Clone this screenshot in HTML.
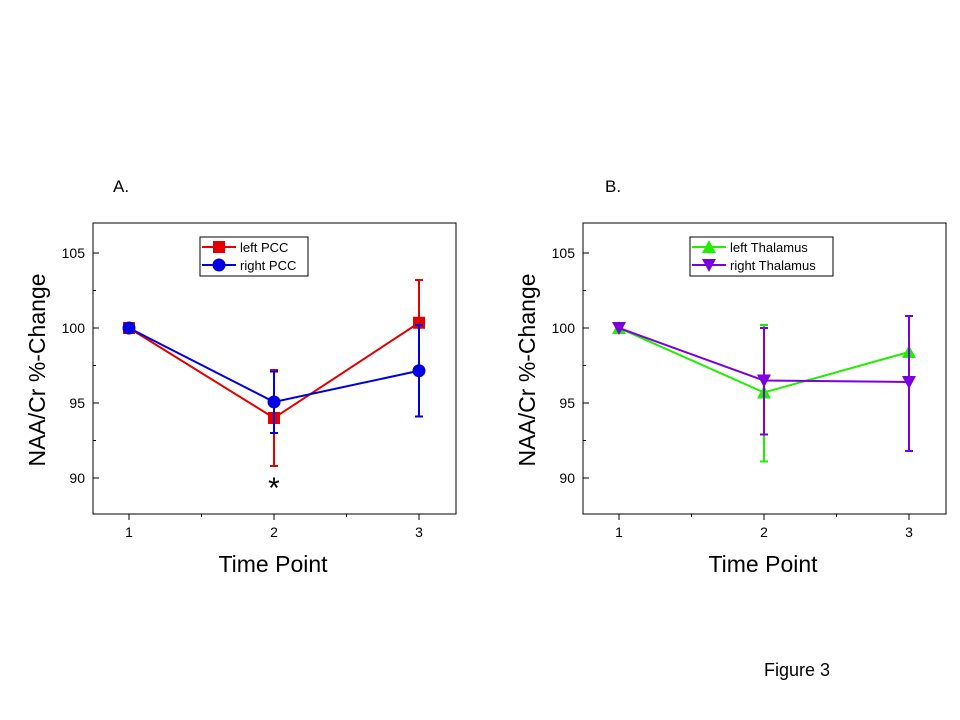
<!DOCTYPE html>
<html><head><meta charset="utf-8"><style>
body{margin:0;background:#fff;width:960px;height:720px;overflow:hidden}
svg{display:block;font-family:"Liberation Sans",Arial,sans-serif}
</style></head><body>
<svg id="fig" width="960" height="720">
<text x="113" y="192" font-size="17">A.</text>
<text x="605" y="192" font-size="17">B.</text>
<text x="797" y="676" font-size="18" text-anchor="middle">Figure 3</text>
</svg>
<script>
const xCats=[1,2,3];
const yTicks=[90,95,100,105];
const aLeft=[100,94.0,100.35];
const aLeftHi=[100,97.2,103.2];
const aLeftLo=[100,90.8,97.4];
const aRight=[100,95.07,97.15];
const aRightHi=[100,97.1,100.2];
const aRightLo=[100,93.0,94.1];
const bLeft=[100,95.7,98.4];
const bLeftHi=[100,100.2,98.4];
const bLeftLo=[100,91.1,98.4];
const bRight=[100,96.5,96.4];
const bRightHi=[100,100.0,100.8];
const bRightLo=[100,92.9,91.8];
const NS="http://www.w3.org/2000/svg";
const svg=document.getElementById('fig');
function mk(t,a,p){const e=document.createElementNS(NS,t);for(const k in a)e.setAttribute(k,a[k]);(p||svg).appendChild(e);return e;}
function panel(px,id,series,lx,lw){
  const L=px,R=px+363,T=223,B=514;
  const X=v=>L+36+(v-1)*145, Y=v=>328-(v-100)*15;
  const g=mk('g',{});
  
  
  const fr=mk('rect',{x:L,y:T,width:R-L,height:B-T,fill:'none',stroke:'#000','stroke-width':1},g);
  
  yTicks.forEach(v=>{
    mk('line',{x1:L,x2:L+6,y1:Y(v),y2:Y(v),stroke:'#000'},g);
    if(Y(v+2.5)>T)mk('line',{x1:L,x2:L+3,y1:Y(v+2.5),y2:Y(v+2.5),stroke:'#000'},g);
    const t=mk('text',{x:L-8,y:Y(v)+5,'font-size':14,'text-anchor':'end'},g);t.textContent=v;
    
  });
  xCats.forEach(v=>{
    mk('line',{x1:X(v),x2:X(v),y1:B,y2:B+6,stroke:'#000'},g);
    if(v<3)mk('line',{x1:X(v+0.5),x2:X(v+0.5),y1:B,y2:B+3,stroke:'#000'},g);
    const t=mk('text',{x:X(v),y:B+23,'font-size':14,'text-anchor':'middle'},g);t.textContent=v;
    
  });
  const xt=mk('text',{x:L+180,y:572,'font-size':23,'text-anchor':'middle'},g);xt.textContent='Time Point';
  
  const yt=mk('text',{x:0,y:0,'font-size':23,'text-anchor':'middle',transform:`translate(${L-48},370) rotate(-90)`},g);yt.textContent='NAA/Cr %-Change';
  
  function marker(shape,x,y,c,parent){
    if(shape==='sq')return mk('rect',{x:x-6,y:y-6,width:12,height:12,fill:c},parent);
    if(shape==='ci')return mk('circle',{cx:x,cy:y,r:6.5,fill:c},parent);
    if(shape==='up')return mk('polygon',{points:`${x},${y-7} ${x-7},${y+6} ${x+7},${y+6}`,fill:c},parent);
    return mk('polygon',{points:`${x},${y+7} ${x-7},${y-6} ${x+7},${y-6}`,fill:c},parent);
  }
  series.forEach(s=>{
    const sg=mk('g',{},g);
    
    const pl=mk('polyline',{points:s.v.map((v,i)=>X(xCats[i])+','+Y(v)).join(' '),fill:'none',stroke:s.c,'stroke-width':2},sg);
    
    s.v.forEach((v,i)=>{
      const x=X(xCats[i]);
      if(s.hi[i]!==s.lo[i]){
        const e=mk('path',{d:`M${x},${Y(s.hi[i])}V${Y(s.lo[i])}M${x-4},${Y(s.hi[i])}H${x+4}M${x-4},${Y(s.lo[i])}H${x+4}`,stroke:s.c,'stroke-width':2,fill:'none'},sg);
        
      }
      const m=marker(s.m,x,Y(v),s.c,sg);
      
    });
  });
  const lg=mk('g',{},g);
  
  mk('rect',{x:lx,y:237,width:lw,height:39,fill:'#fff',stroke:'#000'},lg);
  series.forEach((s,i)=>{
    const y=247+i*18;
    mk('line',{x1:lx+2,x2:lx+36,y1:y,y2:y,stroke:s.c,'stroke-width':2},lg);
    marker(s.m,lx+19,y,s.c,lg);
    const t=mk('text',{x:lx+40,y:y+5,'font-size':13},lg);t.textContent=s.label;
    
  });
  return {X,Y};
}
const A=panel(93,'panel-a',[
 {name:'left-pcc',label:'left PCC',c:'#e30000',m:'sq',v:aLeft,hi:aLeftHi,lo:aLeftLo},
 {name:'right-pcc',label:'right PCC',c:'#0000e0',m:'ci',v:aRight,hi:aRightHi,lo:aRightLo}],200,108);
const st=mk('text',{x:A.X(2),y:498,'font-size':30,'text-anchor':'middle'});st.textContent='*';


panel(583,'panel-b',[
 {name:'left-thalamus',label:'left Thalamus',c:'#22ee00',m:'up',v:bLeft,hi:bLeftHi,lo:bLeftLo},
 {name:'right-thalamus',label:'right Thalamus',c:'#7a00e0',m:'dn',v:bRight,hi:bRightHi,lo:bRightLo}],690,143);
</script>
</body></html>
